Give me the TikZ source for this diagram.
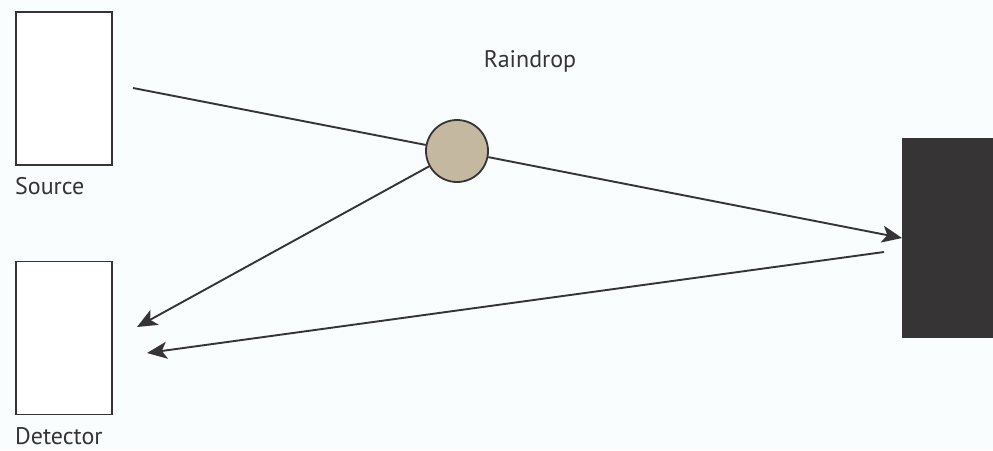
\documentclass[tikz,border=0pt]{standalone}
\usepackage{fontspec}
\setmainfont{PT Sans}
\usetikzlibrary{arrows.meta}
\definecolor{bg}{RGB}{249,253,253}
\definecolor{ink}{RGB}{54,52,53}
\definecolor{drop}{RGB}{196,184,160}
\tikzset{
  boxnode/.style={draw=ink, line width=1.8pt, fill=white, minimum width=96pt, minimum height=153pt, inner sep=0pt},
  lbl/.style={text=ink, font=\fontsize{24pt}{26pt}\selectfont, inner sep=0pt, anchor=base west},
  ray/.style={draw=ink, line width=1.9pt},
  arr/.style={ray, -{Stealth[length=20pt,width=17pt,inset=5pt]}}
}
\begin{document}
\begin{tikzpicture}[x=1pt,y=-1pt]
\useasboundingbox[fill=bg] (0,0) rectangle (993,450);
\node[boxnode] (source) at (64,88.5) {};
\node[boxnode] (detector) at (64,338) {};
\node[lbl] (srclbl) at (15,194) {Source};
\node[lbl] (detlbl) at (15,444) {Detector};
\node[lbl, anchor=base] (droplbl) at (530,67) {Raindrop};
\fill[ink] (902,138) rectangle (993,338);
\coordinate (target) at (902,238);
\node[circle, draw=ink, line width=1.8pt, fill=drop, minimum size=62pt, inner sep=0pt] (drop) at (457,151) {};
\coordinate (s1) at (133,88);
\coordinate (d1) at (137,327);
\coordinate (t1) at (884,252);
\coordinate (d2) at (147,353);
\draw[ray] (s1) -- (drop);
\draw[arr] (drop) -- (target);
\draw[arr] (drop) -- (d1);
\draw[arr] (t1) -- (d2);
\end{tikzpicture}
\end{document}
